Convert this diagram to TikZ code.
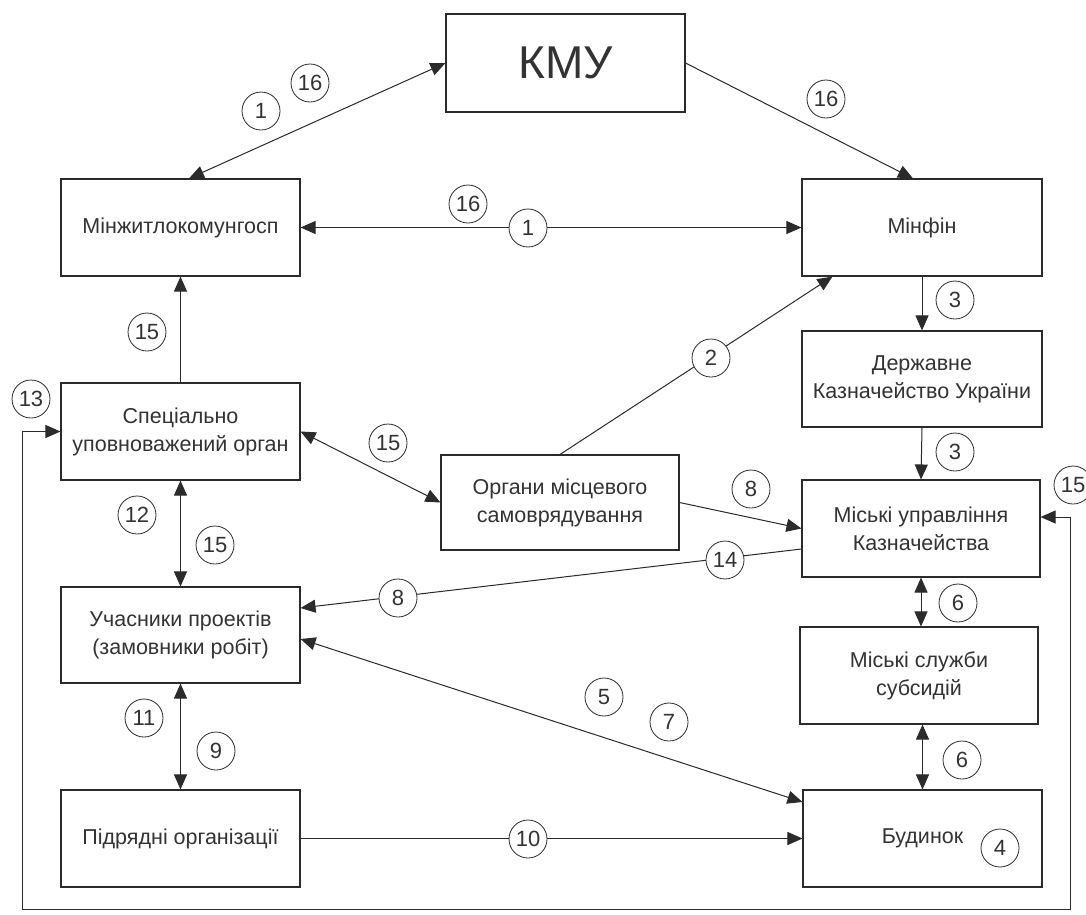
\documentclass[tikz,border=0pt]{standalone}
\usepackage{fontspec}
\setmainfont{Liberation Sans}
\usetikzlibrary{arrows.meta,calc}
\definecolor{ink}{HTML}{2B2B2B}
\definecolor{txt}{HTML}{333333}
\tikzset{
  box/.style={draw=ink, line width=1.1pt, minimum width=239pt, minimum height=97pt,
    inner sep=0pt, align=center, text=txt, font=\fontsize{21.5}{28}\selectfont},
  num/.style={draw=ink, circle, line width=0.8pt, fill=white, minimum size=38pt,
    inner sep=0pt, text=txt, font=\fontsize{22}{22}\selectfont},
  conn/.style={draw=ink, line width=1pt, arrows={-Triangle[length=15pt,width=13pt]}},
  conn2/.style={draw=ink, line width=1pt, arrows={Triangle[length=15pt,width=13pt]-Triangle[length=15pt,width=13pt]}}
}
\begin{document}
\begin{tikzpicture}[x=1pt,y=-1pt]
\useasboundingbox (0,0) rectangle (1086,914);
\clip (0,0) rectangle (1086,914);
\fill[white] (0,0) rectangle (1086,914);

% boxes
\node[box, minimum height=98pt, font=\fontsize{46}{46}\selectfont] (kmu) at (565.5,63) {КМУ};
\node[box] (minzh) at (180.5,227.5) {Мінжитлокомунгосп};
\node[box, minimum width=240pt] (minfin) at (922,227.5) {Мінфін};
\node[box, minimum width=240pt, minimum height=96pt] (derzh) at (922,379) {Державне\\Казначейство України};
\node[box] (spec) at (180.5,431.5) {Спеціально\\уповноважений орган};
\node[box, minimum width=238pt, minimum height=95pt] (organy) at (560,502.5) {Органи місцевого\\самоврядування};
\node[box, minimum width=238pt] (muk) at (921,528.5) {Міські управління\\Казначейства};
\node[box, minimum height=96pt] (uch) at (180.5,635) {Учасники проектів\\(замовники робіт)};
\node[box, minimum width=238pt] (subs) at (919,675.5) {Міські служби\\субсидій};
\node[box] (pidr) at (180.5,838.5) {Підрядні організації};
\node[box] (bud) at (922.5,838.5) {Будинок};

% loop coordinates
\coordinate (bl) at (22,909);
\coordinate (br) at (1070,909);

% connectors
\draw[conn2] ([xshift=8.5pt]minzh.north) -- (kmu.west);
\draw[conn] (kmu.east) -- ([xshift=-9pt]minfin.north);
\draw[conn2] (minzh.east) -- (minfin.west);
\draw[conn] (spec.north) -- (minzh.south);
\draw[conn] (minfin.south) -- (derzh.north);
\draw[conn] (organy.north) -- ([xshift=31pt]minfin.south west);
\draw[conn] (derzh.south) -- (muk.north);
\draw[conn2] (spec.east) -- (organy.west);
\draw[conn] (organy.east) -- (muk.west);
\draw[conn] ([yshift=-20.5pt]muk.west) -- ([yshift=27pt]uch.east);
\draw[conn2] (spec.south) -- (uch.north);
\draw[conn2] (muk.south) -- (muk.south |- subs.north);
\draw[conn2] (bud.north |- subs.south) -- (bud.north);
\draw[conn2] ([yshift=-4pt]uch.east) -- ([yshift=36.5pt]bud.west);
\draw[conn2] (uch.south) -- (pidr.north);
\draw[conn] (pidr.east) -- (bud.west);
\draw[conn2] (spec.west) -| (bl) -- (br) |- ([yshift=11.5pt]muk.east);

% number labels
\node[num] (n1a) at (261,111) {1};
\node[num] (n16a) at (310,83) {16};
\node[num] (n16b) at (826,99) {16};
\node[num] (n16c) at (468,204) {16};
\node[num] (n1b) at (528,228) {1};
\node[num] (n3a) at (955,300) {3};
\node[num] (n15a) at (147,332) {15};
\node[num] (n13) at (31,399) {13};
\node[num] (n15b) at (388,443) {15};
\node[num] (n2) at (711,358) {2};
\node[num] (n3b) at (955,452) {3};
\node[num] (n8a) at (751,489) {8};
\node[num] (n15c) at (1073,485) {15};
\node[num] (n14) at (725,560) {14};
\node[num] (n8b) at (398,598) {8};
\node[num] (n12) at (137,515) {12};
\node[num] (n15d) at (215,545) {15};
\node[num] (n6a) at (958,603) {6};
\node[num] (n5) at (604,697) {5};
\node[num] (n7) at (669,722) {7};
\node[num] (n11) at (144,718) {11};
\node[num] (n9) at (216,751) {9};
\node[num] (n6b) at (962,760) {6};
\node[num] (n10) at (528,839) {10};
\node[num] (n4) at (1000,848) {4};
\end{tikzpicture}
\end{document}
